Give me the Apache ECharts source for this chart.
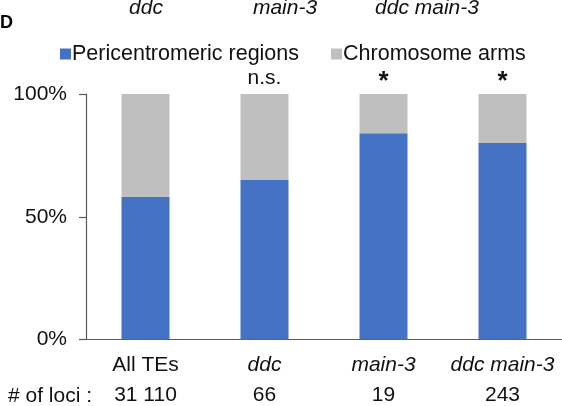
<!DOCTYPE html>
<html>
<head>
<meta charset="utf-8">
<script src="https://cdn.jsdelivr.net/npm/echarts@6/dist/echarts.min.js"></script>
<style>
  html, body { margin: 0; padding: 0; background: #fff; }
  #chart { width: 562px; height: 406px; }
</style>
</head>
<body>
<div id="chart"></div>
<script>
// Genotypes and number of TE loci in each group
const categories = ['All TEs', 'ddc', 'main-3', 'ddc main-3'];
const italicCategory = [false, true, true, true];
const lociCounts = ['31 110', '66', '19', '243'];

// Share of loci (%) in each chromosomal location
const pericentromeric = [58, 65, 84, 80];
const chromosomeArms = [42, 35, 16, 20];

// Significance marks above each bar
const significance = ['', 'n.s.', '*', '*'];

// Genotype headings of the panel above
const headerLabels = ['ddc', 'main-3', 'ddc main-3'];

const yTicks = [0, 50, 100];

const FONT = "Liberation Sans";
const FS = 21;
const BLUE = '#4472C4';
const GREY = '#BFBFBF';
const INK = '#111';

const chart = echarts.init(document.getElementById('chart'), null, { renderer: 'canvas' });

const headerX = [146, 285, 427];

chart.setOption({
  animation: false,
  backgroundColor: '#fff',
  textStyle: { fontFamily: FONT },
  title: {
    text: 'D',
    left: 0,
    top: 14,
    padding: 0,
    textStyle: { fontSize: 18, fontWeight: 'bold', color: '#000', fontFamily: FONT }
  },
  legend: {
    left: 55,
    top: 38,
    itemWidth: 11,
    itemHeight: 11,
    itemGap: 32,
    icon: 'rect',
    textStyle: { fontSize: 21.5, color: INK, fontFamily: FONT, padding: [0, 0, 0, -4] },
    data: ['Pericentromeric regions', 'Chromosome arms']
  },
  grid: { left: 86, right: 0, top: 94, bottom: 66, containLabel: false },
  xAxis: {
    type: 'category',
    data: categories,
    axisLine: { lineStyle: { color: '#595959', width: 1.2 } },
    axisTick: { show: false },
    axisLabel: {
      margin: 11,
      interval: 0,
      formatter: function (v, i) {
        const name = italicCategory[i] ? '{it|' + v + '}' : '{n|' + v + '}';
        return name + '\n{n|' + lociCounts[i] + '}';
      },
      rich: {
        n: { fontSize: FS, color: INK, fontFamily: FONT, lineHeight: 30 },
        it: { fontSize: FS, color: INK, fontFamily: FONT, fontStyle: 'italic', lineHeight: 30 }
      }
    }
  },
  yAxis: {
    type: 'value',
    min: 0,
    max: 100,
    interval: 50,
    splitLine: { show: false },
    axisLine: { show: true, lineStyle: { color: '#595959', width: 1.2 } },
    axisTick: { show: true, length: 7, lineStyle: { color: '#595959', width: 1.2 } },
    axisLabel: {
      margin: 19,
      fontSize: FS,
      color: INK,
      fontFamily: FONT,
      formatter: function (v) { return yTicks.indexOf(v) >= 0 ? v + '%' : ''; }
    }
  },
  series: [
    {
      name: 'Pericentromeric regions',
      type: 'bar',
      stack: 'loc',
      barWidth: 48,
      itemStyle: { color: BLUE },
      data: pericentromeric
    },
    {
      name: 'Chromosome arms',
      type: 'bar',
      stack: 'loc',
      barWidth: 48,
      itemStyle: { color: GREY },
      data: chromosomeArms,
      label: {
        show: true,
        position: 'top',
        distance: 5,
        formatter: function (p) {
          const s = significance[p.dataIndex];
          if (!s) return '';
          return s === '*' ? '{st|*}' : '{ns|' + s + '}';
        },
        rich: {
          ns: { fontSize: FS, color: INK, fontFamily: FONT },
          st: { fontSize: 26, color: INK, fontFamily: FONT, fontWeight: 'bold', padding: [0, 0, -6, 0] }
        }
      }
    }
  ],
  graphic: [
    {
      type: 'text', left: 8, top: 386,
      style: { text: '# of loci :', fontSize: FS, fontFamily: FONT, fill: INK }
    }
  ].concat(headerLabels.map(function (t, i) {
    return {
      type: 'text', x: headerX[i], y: -2,
      style: { text: t, fontSize: FS, fontStyle: 'italic', fontFamily: FONT, fill: INK, textAlign: 'center' }
    };
  }))
});
</script>
</body>
</html>
